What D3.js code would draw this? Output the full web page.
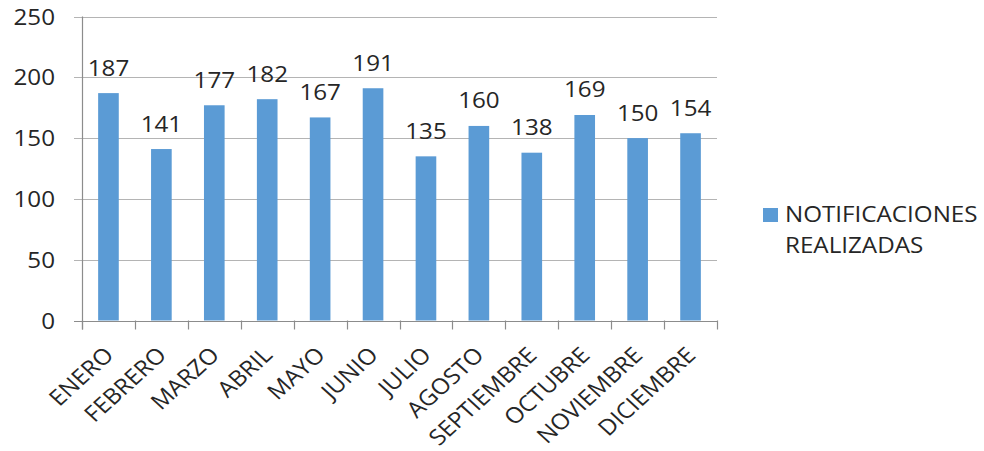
<!DOCTYPE html>
<html>
<head>
<meta charset="utf-8">
<script src="https://cdn.jsdelivr.net/npm/d3@7/dist/d3.min.js"></script>
<style>
  html, body { margin: 0; padding: 0; background: #fff; }
  svg { display: block; }
  text { font-family: "Open Sans", sans-serif; fill: #262626; }
</style>
</head>
<body>
<svg id="chart" width="984" height="451"></svg>
<script>
const months = ["ENERO","FEBRERO","MARZO","ABRIL","MAYO","JUNIO","JULIO","AGOSTO","SEPTIEMBRE","OCTUBRE","NOVIEMBRE","DICIEMBRE"];
const values = [187,141,177,182,167,191,135,160,138,169,150,154];
const yTicks = [0,50,100,150,200,250];
const seriesName = ["NOTIFICACIONES", "REALIZADAS"];

(function () {
const plotL = 82, plotR = 717, plotT = 16.5, plotB = 320.5;
const FS = 22, SX = 1.1;

const svg = d3.select("#chart");

const x = d3.scaleBand().domain(months).range([plotL, plotR])
  .paddingInner(0.61).paddingOuter(0.305);
const y = d3.scaleLinear().domain([0, 250]).range([plotB, plotT]);

// gridlines
svg.append("g").selectAll("line").data(yTicks).join("line")
  .attr("x1", plotL - 8).attr("x2", plotR)
  .attr("y1", d => Math.round(y(d)) + 0.5).attr("y2", d => Math.round(y(d)) + 0.5)
  .attr("stroke", d => d === 0 ? "#8c8c8c" : "#b4b4b4").attr("stroke-width", 1.2);

// y axis line
svg.append("line").attr("x1", plotL + 0.5).attr("x2", plotL + 0.5)
  .attr("y1", plotT).attr("y2", plotB + 9)
  .attr("stroke", "#8c8c8c").attr("stroke-width", 1.2);

// category ticks
const step = x.step();
const tickXs = d3.range(months.length + 1).map(i => plotL + i * step);
svg.append("g").selectAll("line").data(tickXs).join("line")
  .attr("x1", d => Math.round(d) + 0.5).attr("x2", d => Math.round(d) + 0.5)
  .attr("y1", plotB).attr("y2", plotB + 9)
  .attr("stroke", "#8c8c8c").attr("stroke-width", 1.2);

// y tick labels
svg.append("g").selectAll("text").data(yTicks).join("text")
  .attr("transform", d => `translate(55,${y(d) + 8}) scale(${SX},1)`)
  .attr("text-anchor", "end").attr("font-size", FS)
  .text(d => d);

// bars
svg.append("g").selectAll("rect").data(values).join("rect")
  .attr("x", (d, i) => x(months[i])).attr("width", x.bandwidth())
  .attr("y", d => y(d)).attr("height", d => y(0) - y(d))
  .attr("fill", "#5b9bd5");

// value labels
svg.append("g").selectAll("text").data(values).join("text")
  .attr("transform", (d, i) => `translate(${x(months[i]) + x.bandwidth() / 2},${y(d) - 17.5}) scale(${SX},1)`)
  .attr("text-anchor", "middle").attr("font-size", FS)
  .text(d => d);

// category labels
svg.append("g").selectAll("text").data(months).join("text")
  .attr("transform", d => `translate(${x(d) + x.bandwidth() / 2 + 6.5},${plotB + 36}) scale(${SX},1) rotate(-45)`)
  .attr("text-anchor", "end").attr("font-size", FS)
  .text(d => d);

// legend
svg.append("rect").attr("x", 763).attr("y", 208).attr("width", 15).attr("height", 14).attr("fill", "#5b9bd5");
svg.append("g").selectAll("text").data(seriesName).join("text")
  .attr("transform", (d, i) => `translate(785,${222 + i * 31}) scale(${SX},1)`)
  .attr("font-size", FS)
  .text(d => d);
})();
</script>
</body>
</html>
